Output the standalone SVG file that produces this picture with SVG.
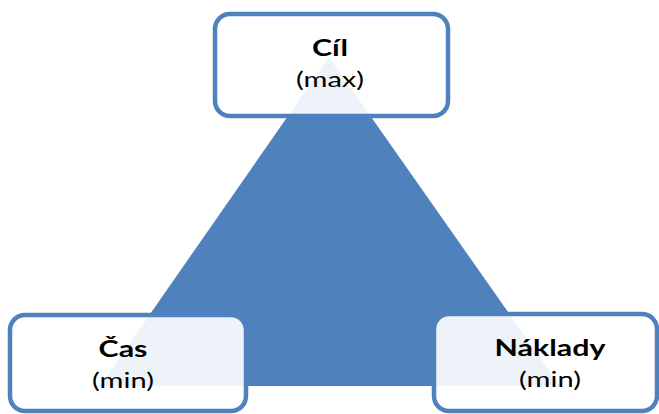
<svg xmlns="http://www.w3.org/2000/svg" width="659" height="414" viewBox="0 0 659 414">
<style>
.box{fill:#ffffff;fill-opacity:0.9;stroke:#4F81BD;stroke-width:4.5}
.t{font-family:Lato,"Open Sans","Liberation Sans",sans-serif;text-anchor:middle;fill:#000}
.b{font-weight:bold;font-size:23px}
.n{font-size:22px}
</style>
<rect width="659" height="414" fill="#ffffff"/>
<g id="triangle">
<polygon points="329,57 100,386 560,386" fill="#4F81BD"/>
</g>
<g id="node-cil">
<rect class="box" x="215" y="14" width="233" height="102" rx="15"/>
<text class="t b" transform="translate(330,56) scale(1.32,1)">Cíl</text>
<text class="t n" transform="translate(330,87) scale(1.32,1)">(max)</text>
</g>
<g id="node-cas">
<rect class="box" x="10" y="315" width="236" height="96" rx="15"/>
<text class="t b" transform="translate(123,357) scale(1.32,1)">Čas</text>
<text class="t n" transform="translate(123,388) scale(1.32,1)">(min)</text>
</g>
<g id="node-naklady">
<rect class="box" x="434" y="314" width="223" height="97" rx="15"/>
<text class="t b" transform="translate(550,356) scale(1.32,1)">Náklady</text>
<text class="t n" transform="translate(550,387) scale(1.32,1)">(min)</text>
</g>
<g id="connectors"></g>
</svg>
